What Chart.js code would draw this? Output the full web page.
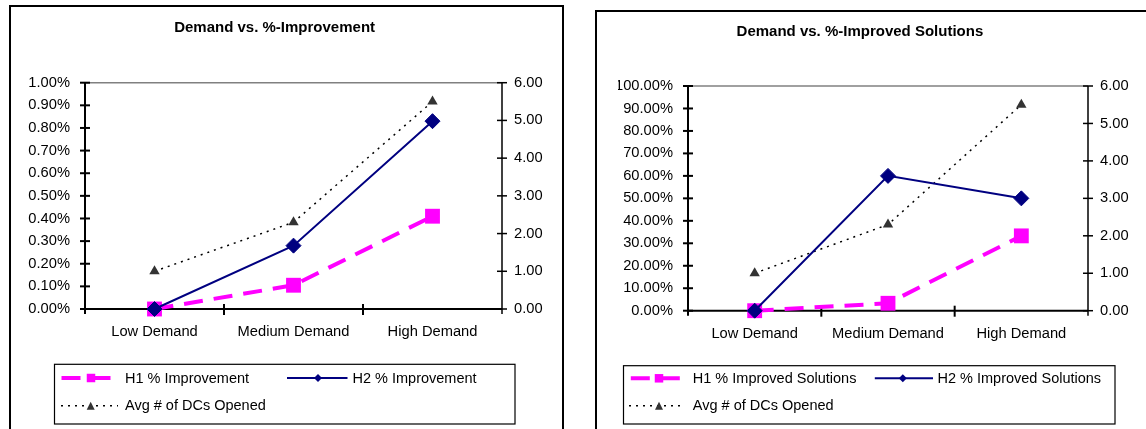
<!DOCTYPE html>
<html>
<head>
<meta charset="utf-8">
<script src="https://cdn.jsdelivr.net/npm/chart.js@4/dist/chart.umd.min.js"></script>
<style>
  html, body { margin: 0; padding: 0; background: #fff; width: 1146px; height: 429px; overflow: hidden; position: relative; }
  .frame { position: absolute; border: 2px solid #000; }
  #f1 { left: 9px; top: 5px; width: 551px; height: 430px; }
  #f2 { left: 595px; top: 10px; width: 560px; height: 430px; }
  canvas { display: block; }
</style>
</head>
<body>
<div class="frame" id="f1"><canvas id="c1" width="551" height="422" style="width:551px;height:422px"></canvas></div>
<div class="frame" id="f2"><canvas id="c2" width="549" height="417" style="width:549px;height:417px"></canvas></div>

<script>
// ---- data ----
const categories = ['Low Demand', 'Medium Demand', 'High Demand'];

// percent values
const h1Improvement = [0, 0.105, 0.41];
const h2Improvement = [0, 0.28, 0.83];
const h1ImprovedSolutions = [0, 3.3, 33.3];
const h2ImprovedSolutions = [0, 60, 50];

// secondary axis
const avgDCsOpened = [1.0, 2.3, 5.5];

// axis tick values
const improvementTicks = [0, 0.1, 0.2, 0.3, 0.4, 0.5, 0.6, 0.7, 0.8, 0.9, 1.0];
const solutionsTicks = [0, 10, 20, 30, 40, 50, 60, 70, 80, 90, 100];
const dcTicks = [0, 1, 2, 3, 4, 5, 6];

// ---- styling ----
const FONT = "'Liberation Sans', Arial, Helvetica, sans-serif";
const MAGENTA = '#FF00FF';
const NAVY = '#000080';
const DARK = '#333333';
const H1_DASH = [19, 11];
const AVG_DASH = [2, 5];

Chart.defaults.font.family = FONT;
Chart.defaults.color = '#000';

function marker(ctx, shape, x, y, s, color) {
  ctx.save();
  ctx.setLineDash([]);
  ctx.fillStyle = color;
  ctx.beginPath();
  if (shape === 'square') {
    ctx.rect(x - s / 2, y - s / 2, s, s);
  } else if (shape === 'diamond') {
    ctx.moveTo(x - s / 2, y); ctx.lineTo(x, y - s / 2);
    ctx.lineTo(x + s / 2, y); ctx.lineTo(x, y + s / 2);
    ctx.closePath();
  } else {
    ctx.moveTo(x, y - s / 2); ctx.lineTo(x + s / 2, y + s / 2);
    ctx.lineTo(x - s / 2, y + s / 2); ctx.closePath();
  }
  ctx.fill();
  ctx.restore();
}

// axes, plot frame and crossing tick marks
const frameAxes = {
  id: 'frameAxes',
  beforeDatasetsDraw(chart) {
    const ctx = chart.ctx;
    const { left, right, top, bottom } = chart.chartArea;
    const y = chart.scales.y, y1 = chart.scales.y1, x = chart.scales.x;
    ctx.save();
    ctx.setLineDash([]);
    // top border of plot
    ctx.strokeStyle = '#808080';
    ctx.lineWidth = 1.5;
    ctx.beginPath(); ctx.moveTo(left, top); ctx.lineTo(right, top); ctx.stroke();
    ctx.strokeStyle = '#000';
    // right axis
    ctx.lineWidth = 1.5;
    ctx.beginPath(); ctx.moveTo(right, top); ctx.lineTo(right, bottom + 5); ctx.stroke();
    y1.ticks.forEach(t => {
      const py = y1.getPixelForValue(t.value);
      ctx.beginPath(); ctx.moveTo(right - 5, py); ctx.lineTo(right + 5, py); ctx.stroke();
    });
    // left axis
    ctx.lineWidth = 2;
    ctx.beginPath(); ctx.moveTo(left, top); ctx.lineTo(left, bottom + 5); ctx.stroke();
    y.ticks.forEach(t => {
      const py = y.getPixelForValue(t.value);
      ctx.beginPath(); ctx.moveTo(left - 5, py); ctx.lineTo(left + 5, py); ctx.stroke();
    });
    // category axis
    ctx.beginPath(); ctx.moveTo(left, bottom); ctx.lineTo(right, bottom); ctx.stroke();
    for (let i = 1; i < categories.length; i++) {
      const px = (x.getPixelForValue(i - 1) + x.getPixelForValue(i)) / 2;
      ctx.beginPath(); ctx.moveTo(px, bottom - 5); ctx.lineTo(px, bottom + 6); ctx.stroke();
    }
    ctx.restore();
  }
};

// title and boxed legend
const titleLegend = {
  id: 'titleLegend',
  afterDraw(chart, args, opts) {
    const ctx = chart.ctx;
    ctx.save();
    ctx.fillStyle = '#000';
    ctx.textBaseline = 'middle';
    ctx.textAlign = 'center';
    ctx.font = 'bold 15px ' + FONT;
    ctx.fillText(opts.title, opts.titleX, opts.titleY);

    const b = opts.box;
    ctx.strokeStyle = '#000';
    ctx.lineWidth = 1.2;
    ctx.setLineDash([]);
    ctx.strokeRect(b[0], b[1], b[2] - b[0], b[3] - b[1]);

    ctx.textAlign = 'left';
    ctx.font = '14.5px ' + FONT;
    chart.data.datasets.forEach((ds, i) => {
      const it = opts.items[i];
      const ry = opts.rows[it.row];
      ctx.save();
      ctx.strokeStyle = ds.borderColor;
      ctx.lineWidth = ds.borderWidth;
      ctx.setLineDash(ds.borderDash || []);
      ctx.beginPath(); ctx.moveTo(it.x0, ry); ctx.lineTo(it.x1, ry); ctx.stroke();
      ctx.restore();
      marker(ctx, it.shape, it.mx, ry, it.size, ds.pointBackgroundColor);
      ctx.fillStyle = '#000';
      ctx.fillText(ds.label, it.tx, ry + 0.5);
    });
    ctx.restore();
  }
};

function fixedTicks(values) {
  return scale => { scale.ticks = values.map(v => ({ value: v })); };
}

function build(spec) {
  return new Chart(document.getElementById(spec.canvas), {
    type: 'line',
    data: {
      labels: categories,
      datasets: [
        {
          label: spec.names[0], data: spec.h1, yAxisID: 'y', order: 2,
          borderColor: MAGENTA, borderWidth: 4, borderDash: H1_DASH, borderCapStyle: 'butt',
          pointStyle: 'rect', pointRadius: 10.5, pointBackgroundColor: MAGENTA,
          pointBorderWidth: 0, pointBorderColor: MAGENTA, clip: false, tension: 0
        },
        {
          label: spec.names[1], data: spec.h2, yAxisID: 'y', order: 1,
          borderColor: NAVY, borderWidth: 2,
          pointStyle: 'rectRot', pointRadius: 7.5, pointBackgroundColor: NAVY,
          pointBorderWidth: 1, pointBorderColor: NAVY, clip: false, tension: 0
        },
        {
          label: spec.names[2], data: avgDCsOpened, yAxisID: 'y1', order: 3,
          borderColor: '#000', borderWidth: 1.5, borderDash: AVG_DASH,
          pointStyle: 'triangle', pointRadius: 6, pointBackgroundColor: DARK,
          pointBorderWidth: 0, pointBorderColor: DARK, clip: false, tension: 0
        }
      ]
    },
    options: {
      responsive: false,
      animation: false,
      events: [],
      layout: { padding: spec.padding },
      plugins: {
        legend: { display: false },
        title: { display: false },
        tooltip: { enabled: false },
        titleLegend: spec.legend
      },
      scales: {
        x: {
          type: 'category', offset: true,
          grid: { display: false, drawTicks: false }, border: { display: false },
          ticks: { font: { size: 14.7 }, color: '#000', padding: 14, maxRotation: 0, autoSkip: false },
          afterFit: s => { s.height = 40; }
        },
        y: {
          position: 'left', min: 0, max: spec.pctTicks[spec.pctTicks.length - 1],
          grid: { display: false, drawTicks: false }, border: { display: false },
          afterBuildTicks: fixedTicks(spec.pctTicks),
          ticks: { font: { size: 14.7 }, color: '#000', padding: 15, callback: v => v.toFixed(2) + '%' },
          afterFit: s => { s.width = spec.yWidth; }
        },
        y1: {
          position: 'right', min: 0, max: 6,
          grid: { display: false, drawTicks: false }, border: { display: false },
          afterBuildTicks: fixedTicks(dcTicks),
          ticks: { font: { size: 14.7 }, color: '#000', padding: 12, callback: v => v.toFixed(2) },
          afterFit: s => { s.width = 50; }
        }
      }
    },
    plugins: [frameAxes, titleLegend]
  });
}

build({
  canvas: 'c1',
  names: ['H1 % Improvement', 'H2 % Improvement', 'Avg # of DCs Opened'],
  h1: h1Improvement, h2: h2Improvement, pctTicks: improvementTicks,
  padding: { left: 14, right: 10, top: 75.7, bottom: 80 }, yWidth: 60,
  legend: {
    title: 'Demand vs. %-Improvement', titleX: 263.6, titleY: 20.5,
    box: [43.5, 357.3, 504, 417], rows: [371, 398.7],
    items: [
      { row: 0, x0: 50.5, x1: 103.5, mx: 80, tx: 114, shape: 'square', size: 8.5 },
      { row: 0, x0: 276, x1: 336.5, mx: 307, tx: 341.5, shape: 'diamond', size: 8 },
      { row: 1, x0: 50, x1: 107, mx: 79.7, tx: 114, shape: 'triangle', size: 8 }
    ]
  }
});

build({
  canvas: 'c2',
  names: ['H1 % Improved Solutions', 'H2 % Improved Solutions', 'Avg # of DCs Opened'],
  h1: h1ImprovedSolutions, h2: h2ImprovedSolutions, pctTicks: solutionsTicks,
  padding: { left: 21, right: 8, top: 74, bottom: 78.3 }, yWidth: 70,
  legend: {
    title: 'Demand vs. %-Improved Solutions', titleX: 262.9, titleY: 19.7,
    box: [26.5, 353.7, 518, 412], rows: [366.3, 393.7],
    items: [
      { row: 0, x0: 33.8, x1: 86, mx: 62, tx: 95.8, shape: 'square', size: 8.5 },
      { row: 0, x0: 277.8, x1: 336, mx: 305.8, tx: 340.5, shape: 'diamond', size: 8 },
      { row: 1, x0: 32, x1: 87, mx: 62, tx: 95.8, shape: 'triangle', size: 8 }
    ]
  }
});
</script>
</body>
</html>
